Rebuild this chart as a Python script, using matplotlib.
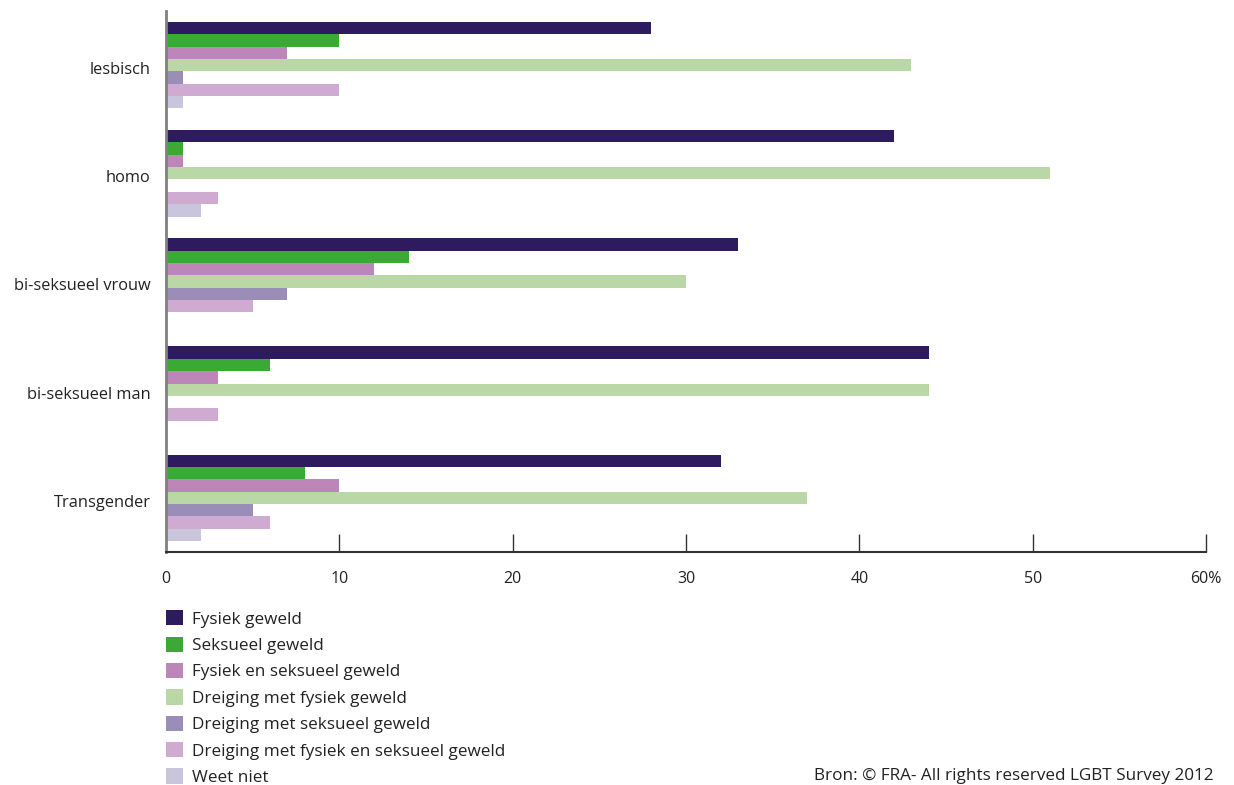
import numpy as np
import matplotlib
matplotlib.use('Agg')
import matplotlib.pyplot as plt
from matplotlib.patches import Patch
from matplotlib.transforms import ScaledTranslation

plt.rcParams['font.family'] = ['Open Sans', 'DejaVu Sans']

# ============================================================
# Data (percentages)
# ============================================================
categories = ['lesbisch', 'homo', 'bi-seksueel vrouw', 'bi-seksueel man', 'Transgender']

series_names = [
    'Fysiek geweld',
    'Seksueel geweld',
    'Fysiek en seksueel geweld',
    'Dreiging met fysiek geweld',
    'Dreiging met seksueel geweld',
    'Dreiging met fysiek en seksueel geweld',
    'Weet niet',
]

fysiek = [28, 42, 33, 44, 32]
seksueel = [10, 1, 14, 6, 8]
fysiek_seksueel = [7, 1, 12, 3, 10]
dreiging_fysiek = [43, 51, 30, 44, 37]
dreiging_seksueel = [1, 0, 7, 0, 5]
dreiging_fys_sek = [10, 3, 5, 3, 6]
weet_niet = [1, 2, 0, 0, 2]

values = [fysiek, seksueel, fysiek_seksueel, dreiging_fysiek,
          dreiging_seksueel, dreiging_fys_sek, weet_niet]

colors = ['#2e1a5e', '#3aaa35', '#bd86b9', '#bad8a6',
          '#9a8db7', '#d0abd1', '#c8c5dc']

x_ticks = [0, 10, 20, 30, 40, 50, 60]
x_tick_labels = ['0', '10', '20', '30', '40', '50', '60%']

source = 'Bron: © FRA- All rights reserved LGBT Survey 2012'

# ============================================================
# Plot
# ============================================================
fig = plt.figure(figsize=(12.34, 7.85), dpi=100)
ax = fig.add_axes([166 / 1234, 1 - 552 / 785, (1206 - 166) / 1234, (552 - 11) / 785])

n_series = len(values)
bar_h = 0.8 / n_series
y = np.arange(len(categories))

for i, (vals, col) in enumerate(zip(values, colors)):
    offset = -0.4 + bar_h * (i + 0.5)
    ax.barh(y + offset, vals, height=bar_h, color=col, linewidth=0)

ax.set_ylim(4.5, -0.5)
ax.set_xlim(0, 60)

ax.set_yticks(y)
ax.set_yticklabels(categories, fontsize=11.8, color='#222222')
ax.tick_params(axis='y', length=0, pad=11)
# labels sit a little below the group centre in the original
shift = ScaledTranslation(0, -3 / 100, fig.dpi_scale_trans)
for lbl in ax.get_yticklabels():
    lbl.set_transform(lbl.get_transform() + shift)

ax.set_xticks(x_ticks)
ax.set_xticklabels(x_tick_labels, fontsize=11.5, color='#222222')
ax.tick_params(axis='x', direction='in', length=13, width=1, color='#333333', pad=14)
ax.xaxis.get_major_ticks()[0].tick1line.set_visible(False)

for s in ['top', 'right']:
    ax.spines[s].set_visible(False)
ax.spines['left'].set_color('#808080')
ax.spines['left'].set_linewidth(2)
ax.spines['bottom'].set_color('#333333')
ax.spines['bottom'].set_linewidth(1.5)

handles = [Patch(facecolor=c, edgecolor='none', label=n) for c, n in zip(colors, series_names)]
fig.legend(handles=handles, loc='upper left',
           bbox_to_anchor=(161 / 1234, 1 - 605 / 785),
           frameon=False, fontsize=12.3, handlelength=1.0, handleheight=1.0,
           handletextpad=0.5, labelspacing=0.52, borderaxespad=0, borderpad=0.3,
           labelcolor='#222222')

fig.text(1213 / 1234, 1 - 776 / 785, source, ha='right', va='center',
         fontsize=12.3, color='#222222')

fig.savefig('out.png', dpi=100)
